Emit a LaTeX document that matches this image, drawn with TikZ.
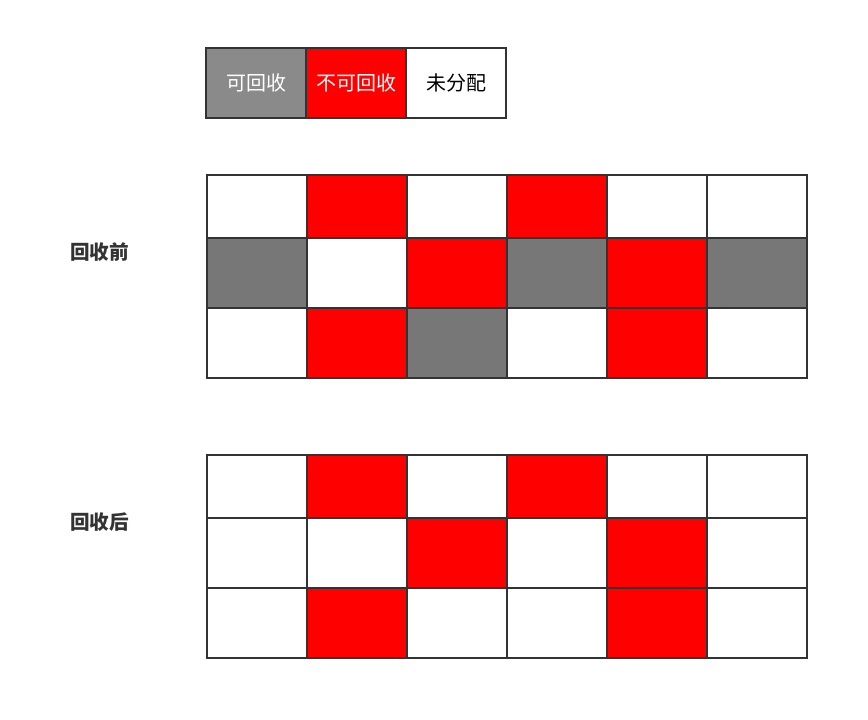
\documentclass[tikz,border=0pt]{standalone}
\usepackage{fontspec}
\newfontfamily\cjk{Noto Sans CJK SC}
\definecolor{lgray}{HTML}{8A8A8A}
\definecolor{ggray}{HTML}{777777}
\definecolor{myred}{HTML}{FF0000}
\definecolor{edge}{HTML}{333333}
\tikzset{
  cellbox/.style={draw=edge, line width=1.5pt, inner sep=0pt, outer sep=0pt, anchor=north west},
  legtext/.style={font=\cjk\fontsize{15}{17}\selectfont},
  sidelabel/.style={font=\cjk\bfseries\fontsize{14.7}{17}\selectfont, text=edge}
}
\begin{document}
\begin{tikzpicture}[x=0.75pt,y=-0.75pt]
\useasboundingbox (0,0) rectangle (868,720);
\fill[white] (0,0) rectangle (868,720);
% legend
\node[cellbox, fill=lgray, minimum width=75pt, minimum height=52.5pt, text=white, legtext] (l1) at (206,48) {可回收};
\node[cellbox, fill=myred, minimum width=75pt, minimum height=52.5pt, text=white, legtext] (l2) at (306,48) {不可回收};
\node[cellbox, fill=white, minimum width=75pt, minimum height=52.5pt, text=black, legtext] (l3) at (406,48) {未分配};
% grids
\def\rowtops{{175,238,308}}
\def\rowh{{63,70,70}}
\foreach \g/\yoff/\cols in {a/0/{{"w","r","w","r","w","w","g","w","r","g","r","g","w","r","g","w","r","w"}},
                            b/280/{{"w","r","w","r","w","w","w","w","r","w","r","w","w","r","w","w","r","w"}}}{
  \foreach \r in {0,1,2}{
    \foreach \c in {0,...,5}{
      \pgfmathsetmacro{\yy}{\rowtops[\r]+\yoff}
      \pgfmathsetmacro{\hh}{\rowh[\r]*0.75}
      \pgfmathsetmacro{\xx}{206.5+100*\c}
      \pgfmathparse{\cols[\r*6+\c]}
      \edef\cc{\pgfmathresult}
      \def\fc{white}
      \if r\cc \def\fc{myred}\fi
      \if g\cc \def\fc{ggray}\fi
      \node[cellbox, fill=\fc, minimum width=75pt, minimum height=\hh pt] (\g-\r-\c) at (\xx,\yy) {};
    }
  }
}
\node[sidelabel] (before) at (99.5,252) {回收前};
\node[sidelabel] (after) at (99.5,522) {回收后};
\end{tikzpicture}
\end{document}
